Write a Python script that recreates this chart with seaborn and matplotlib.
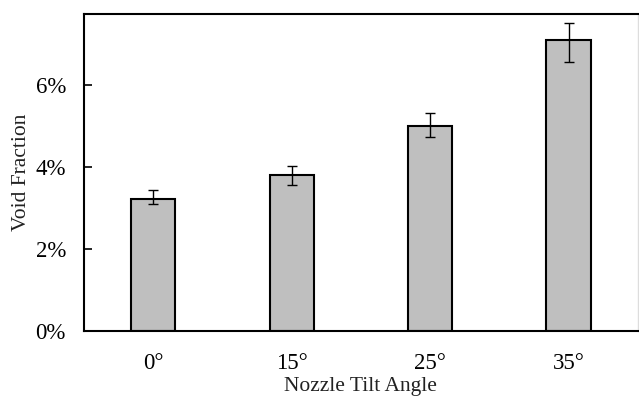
import matplotlib
matplotlib.use("Agg")
import matplotlib.pyplot as plt
import seaborn as sns
import pandas as pd
from matplotlib.ticker import PercentFormatter

# Void fraction (%) by nozzle tilt angle, with upper / lower error extents
angles = ["0°", "15°", "25°", "35°"]
void_fraction = [3.22, 3.80, 5.00, 7.11]
err_upper = [0.21, 0.23, 0.31, 0.40]
err_lower = [0.11, 0.24, 0.26, 0.55]

df = pd.DataFrame({"angle": angles, "void": [v / 100 for v in void_fraction]})

sns.set_style("white")
plt.rcParams["font.family"] = ["Liberation Serif", "DejaVu Serif"]

fig = plt.figure(figsize=(6.39, 3.96), dpi=100)
ax = fig.add_axes([0.1315, 0.1641, 0.8665, 0.8013])

sns.barplot(data=df, x="angle", y="void", color="#bfbfbf", width=0.32,
            edgecolor="black", linewidth=1.5, errorbar=None, ax=ax)

ax.errorbar(range(len(angles)), df["void"],
            yerr=[[e / 100 for e in err_lower], [e / 100 for e in err_upper]],
            fmt="none", ecolor="black", elinewidth=1.0, capsize=3.6,
            capthick=1.0, clip_on=False, zorder=5)

ax.set_xlim(-0.5, 3.5)
ax.set_ylim(0, 0.0774)
ax.set_yticks([0, 0.02, 0.04, 0.06])
ax.yaxis.set_major_formatter(PercentFormatter(xmax=1, decimals=0))

ax.tick_params(axis="y", direction="in", length=6, width=1.2, left=True,
               labelsize=16.5, pad=13, colors="black")
ax.tick_params(axis="x", length=0, labelsize=16.5, pad=16, colors="black")

ax.set_xlabel("Nozzle Tilt Angle", fontsize=15.5, labelpad=2, color="#222222")
ax.set_ylabel("Void Fraction", fontsize=15.5, labelpad=3, color="#222222")

for side in ["left", "bottom", "top"]:
    ax.spines[side].set_color("black")
    ax.spines[side].set_linewidth(1.5)
ax.spines["right"].set_color("#dddddd")
ax.spines["right"].set_linewidth(1.0)

fig.savefig("out.png", dpi=100)
